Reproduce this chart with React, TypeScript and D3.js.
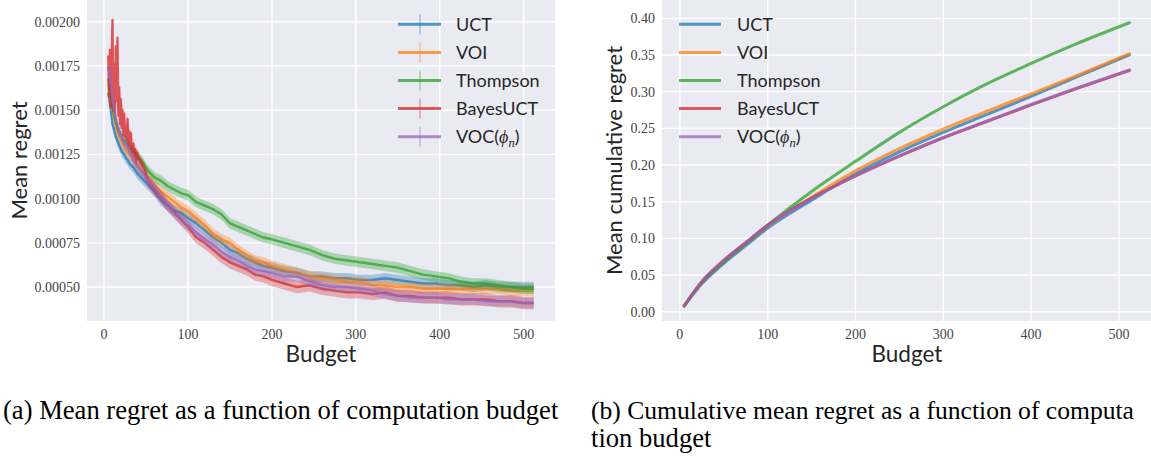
import React from 'react';
import * as d3 from 'd3';

const budget = [
  5, 8, 10, 12, 14, 16, 18, 20,
  22, 24, 26, 28, 30, 32, 34, 36,
  40, 44, 48, 52, 56, 60,
  68, 76, 84, 92, 100,
  110, 120, 130, 140, 150, 160, 170, 180, 190, 200,
  215, 230, 245, 260, 275, 290, 305, 320, 335, 350, 365, 380, 395, 410, 425, 440, 455, 470, 485, 500,
  512,
];
// BayesUCT is very noisy at the start, so it is read at every step there
const bayesBudget = [
  5, 6, 7, 8, 9, 10, 11, 12, 13, 14, 15, 16, 17, 18, 19, 20, 21, 22,
  23, 24, 25, 26, 27, 28, 29, 30, 31, 32, 33, 34, 35, 36, 37, 38, 39, 40,
  44, 48, 52, 56, 60,
  68, 76, 84, 92, 100,
  110, 120, 130, 140, 150, 160, 170, 180, 190, 200,
  215, 230, 245, 260, 275, 290, 305, 320, 335, 350, 365, 380, 395, 410, 425, 440, 455, 470, 485, 500,
  512,
];

const uctRegret = [
  0.00160, 0.00150, 0.00142, 0.00139, 0.00135, 0.00133, 0.00130, 0.00128,
  0.00126, 0.00125, 0.00123, 0.00122, 0.00120, 0.00119, 0.00118, 0.00117,
  0.00114, 0.00112, 0.00110, 0.00108, 0.00106, 0.00104,
  0.00099, 0.00096, 0.00093, 0.00092, 0.00089,
  0.00086, 0.00082, 0.00078, 0.00075, 0.00071, 0.00069, 0.00066, 0.00064, 0.00062, 0.00061,
  0.00059, 0.00058, 0.00056, 0.00056, 0.00055, 0.00055, 0.00054, 0.00054, 0.00055, 0.00054, 0.00053, 0.00052, 0.00052, 0.00051, 0.00051, 0.00050, 0.00051, 0.00050, 0.00050, 0.00050,
  0.00050,
];
const voiRegret = [
  0.00165, 0.00155, 0.00150, 0.00145, 0.00141, 0.00138, 0.00135, 0.00133,
  0.00131, 0.00129, 0.00128, 0.00126, 0.00125, 0.00124, 0.00122, 0.00121,
  0.00119, 0.00116, 0.00114, 0.00112, 0.00110, 0.00108,
  0.00104, 0.00101, 0.00098, 0.00095, 0.00093,
  0.00089, 0.00085, 0.00080, 0.00077, 0.00075, 0.00071, 0.00068, 0.00065, 0.00064, 0.00062,
  0.00060, 0.00058, 0.00056, 0.00055, 0.00054, 0.00053, 0.00053, 0.00051, 0.00051, 0.00050, 0.00050, 0.00049, 0.00049, 0.00049, 0.00049, 0.00049, 0.00049, 0.00049, 0.00048, 0.00048,
  0.00048,
];
const thompsonRegret = [
  0.00168, 0.00158, 0.00152, 0.00147, 0.00143, 0.00140, 0.00138, 0.00136,
  0.00134, 0.00133, 0.00132, 0.00131, 0.00129, 0.00128, 0.00127, 0.00126,
  0.00124, 0.00122, 0.00119, 0.00116, 0.00114, 0.00112,
  0.00110, 0.00107, 0.00105, 0.00103, 0.00102,
  0.00098, 0.00096, 0.00094, 0.00091, 0.00086, 0.00084, 0.00082, 0.00080, 0.00078, 0.00077,
  0.00075, 0.00073, 0.00071, 0.00068, 0.00066, 0.00065, 0.00064, 0.00063, 0.00062, 0.00061, 0.00059, 0.00057, 0.00056, 0.00055, 0.00053, 0.00052, 0.00052, 0.00051, 0.00050, 0.00049,
  0.00049,
];
const bayesRegret = [
  0.00181, 0.00158, 0.00184, 0.00152, 0.00178, 0.00201, 0.00150, 0.00176, 0.00148, 0.00186,
  0.00155, 0.00191, 0.00147, 0.00163, 0.00142, 0.00156, 0.00140, 0.00150,
  0.00136, 0.00148, 0.00135, 0.00140, 0.00133, 0.00145, 0.00130, 0.00138, 0.00128, 0.00137,
  0.00126, 0.00127, 0.00131, 0.00124, 0.00128, 0.00120, 0.00126, 0.00124,
  0.00120, 0.00117, 0.00110, 0.00108, 0.00105,
  0.00101, 0.00096, 0.00092, 0.00088, 0.00084,
  0.00078, 0.00075, 0.00071, 0.00067, 0.00064, 0.00062, 0.00060, 0.00057, 0.00056, 0.00054,
  0.00052, 0.00050, 0.00051, 0.00049, 0.00048, 0.00047, 0.00047, 0.00046, 0.00047, 0.00045, 0.00045, 0.00044, 0.00044, 0.00044, 0.00043, 0.00043, 0.00043, 0.00042, 0.00042, 0.00041,
  0.00041,
];
const vocRegret = [
  0.00175, 0.00165, 0.00156, 0.00150, 0.00146, 0.00141, 0.00138, 0.00136,
  0.00134, 0.00131, 0.00130, 0.00129, 0.00127, 0.00125, 0.00123, 0.00121,
  0.00118, 0.00116, 0.00113, 0.00110, 0.00108, 0.00106,
  0.00101, 0.00096, 0.00092, 0.00088, 0.00085,
  0.00081, 0.00077, 0.00074, 0.00070, 0.00067, 0.00065, 0.00062, 0.00060, 0.00059, 0.00058,
  0.00056, 0.00056, 0.00053, 0.00051, 0.00050, 0.00050, 0.00049, 0.00048, 0.00046, 0.00045, 0.00044, 0.00044, 0.00044, 0.00043, 0.00043, 0.00043, 0.00042, 0.00042, 0.00042, 0.00041,
  0.00041,
];
// standard error of each series (error bar half height)
const regretErr = [0.00003, 0.00003, 0.00003, 0.000035, 0.00003];

// cumulative regret, read at fewer budgets (smooth curves)
const cumBudget = [5, 25, 50, 75, 100, 150, 200, 250, 300, 350, 400, 450, 512];
const uctCum = [0.008, 0.038, 0.066, 0.090, 0.114, 0.152, 0.188, 0.218, 0.2445, 0.269, 0.2935, 0.319, 0.350];
const voiCum = [0.008, 0.040, 0.069, 0.093, 0.117, 0.156, 0.192, 0.2225, 0.249, 0.2735, 0.297, 0.321, 0.352];
const thompsonCum = [0.008, 0.040, 0.068, 0.093, 0.118, 0.164, 0.205, 0.2445, 0.2795, 0.311, 0.3385, 0.3645, 0.394];
const bayesCum = [0.008, 0.041, 0.070, 0.094, 0.118, 0.155, 0.185, 0.212, 0.237, 0.2595, 0.282, 0.3035, 0.329];
const vocCum = [0.008, 0.041, 0.070, 0.094, 0.118, 0.154, 0.185, 0.2125, 0.2375, 0.260, 0.2825, 0.304, 0.3296];

const names = ['UCT', 'VOI', 'Thompson', 'BayesUCT', 'VOC'];
const colors = ['#1f77b4', '#ff7f0e', '#2ca02c', '#d62728', '#9467bd'];
const regretSeries = [uctRegret, voiRegret, thompsonRegret, bayesRegret, vocRegret];
const regretBudgets = [budget, budget, budget, bayesBudget, budget];
const cumSeries = [uctCum, voiCum, thompsonCum, bayesCum, vocCum];

const budgetTicks = [0, 100, 200, 300, 400, 500];
const regretTicks = [0.0005, 0.00075, 0.001, 0.00125, 0.0015, 0.00175, 0.002];
const cumTicks = [0, 0.05, 0.1, 0.15, 0.2, 0.25, 0.3, 0.35, 0.4];

const SANS = 'Lato, "Liberation Sans", sans-serif';
const SERIF = '"Liberation Serif", serif';
const BG = '#eaeaf2';

function LegendLabel({ name }: { name: string }) {
  if (name !== 'VOC') return <>{name}</>;
  return (
    <>
      VOC(
      <tspan fontFamily={SERIF} fontStyle="italic">ϕ</tspan>
      <tspan fontFamily={SERIF} fontStyle="italic" fontSize="0.7em" dy="4">n</tspan>
      <tspan dy="-4">)</tspan>
    </>
  );
}

function Axes({ x, y, yTicks, yFmt, yLabel, labelX, id }: any) {
  const [x0, x1] = x.range();
  const [y1, y0] = y.range();
  return (
    <g>
      <defs>
        <clipPath id={id}>
          <rect x={x0} y={y0} width={x1 - x0} height={y1 - y0} />
        </clipPath>
      </defs>
      <rect x={x0} y={y0} width={x1 - x0} height={y1 - y0} fill={BG} />
      {budgetTicks.map((t) => (
        <line key={'gx' + t} x1={x(t)} x2={x(t)} y1={y0} y2={y1} stroke="#fff" strokeWidth={1.4} />
      ))}
      {yTicks.map((t: number) => (
        <line key={'gy' + t} x1={x0} x2={x1} y1={y(t)} y2={y(t)} stroke="#fff" strokeWidth={1.4} />
      ))}
      {budgetTicks.map((t) => (
        <text key={'tx' + t} x={x(t)} y={y1 + 18} textAnchor="middle" fontFamily={SERIF}
          fontSize={14} fill="#444">{t}</text>
      ))}
      {yTicks.map((t: number) => (
        <text key={'ty' + t} x={x0 - 7} y={y(t)} dy="0.35em" textAnchor="end" fontFamily={SERIF}
          fontSize={14} fill="#444">{yFmt(t)}</text>
      ))}
      <text x={(x0 + x1) / 2} y={y1 + 41} textAnchor="middle" fontFamily={SANS} fontSize={22.5}
        fill="#262626">Budget</text>
      <text transform={`translate(${labelX},${(y0 + y1) / 2}) rotate(-90)`} textAnchor="middle"
        dy="0.35em" fontFamily={SANS} fontSize={22} fill="#262626">{yLabel}</text>
    </g>
  );
}

function RegretPanel() {
  const x = d3.scaleLinear().domain([-20.35, 537.35]).range([87, 555]);
  const y = d3.scaleLinear().domain([0.000308, 0.002123]).range([321, 0]);
  return (
    <g>
      <Axes x={x} y={y} yTicks={regretTicks} yFmt={d3.format('.5f')} yLabel="Mean regret"
        labelX={19} id="clipL" />
      <g clipPath="url(#clipL)">
        {regretSeries.map((s, k) => {
          const bx = regretBudgets[k];
          const line = d3.line<number>().x((_, i) => x(bx[i])).y((d) => y(d));
          const band = d3.area<number>().x((_, i) => x(bx[i]))
            .y0((d) => y(d - regretErr[k])).y1((d) => y(d + regretErr[k]));
          return (
            <g key={names[k]}>
              <path d={band(s) || ''} fill={colors[k]} opacity={0.33} />
              <path d={line(s) || ''} fill="none" stroke={colors[k]} strokeWidth={2.4}
                strokeOpacity={0.75} strokeLinejoin="round" />
            </g>
          );
        })}
      </g>
      {names.map((n, k) => {
        const ly = 24.3 + k * 28.1;
        return (
          <g key={'lg' + n}>
            <line x1={420} x2={420} y1={ly - 10} y2={ly + 10} stroke={colors[k]} strokeWidth={2}
              strokeOpacity={0.3} />
            <line x1={398} x2={441} y1={ly} y2={ly} stroke={colors[k]} strokeWidth={3}
              strokeOpacity={0.75} />
            <text x={456} y={ly} dy="0.35em" fontFamily={SANS} fontSize={18} fill="#262626">
              <LegendLabel name={n} />
            </text>
          </g>
        );
      })}
    </g>
  );
}

function CumulativePanel() {
  const x = d3.scaleLinear().domain([-20.35, 537.35]).range([662, 1151.7]);
  const y = d3.scaleLinear().domain([-0.0127, 0.425]).range([321, 0]);
  const line = d3.line<number>().x((_, i) => x(cumBudget[i])).y((d) => y(d))
    .curve(d3.curveMonotoneX);
  return (
    <g>
      <Axes x={x} y={y} yTicks={cumTicks} yFmt={d3.format('.2f')} yLabel="Mean cumulative regret"
        labelX={614} id="clipR" />
      <g clipPath="url(#clipR)">
        {cumSeries.map((s, k) => (
          <path key={names[k]} d={line(s) || ''} fill="none" stroke={colors[k]} strokeWidth={3}
            strokeOpacity={0.75} strokeLinecap="round" />
        ))}
      </g>
      {names.map((n, k) => {
        const ly = 24.3 + k * 28.1;
        return (
          <g key={'lg' + n}>
            <line x1={679} x2={721} y1={ly} y2={ly} stroke={colors[k]} strokeWidth={3}
              strokeOpacity={0.75} />
            <text x={737} y={ly} dy="0.35em" fontFamily={SANS} fontSize={18} fill="#262626">
              <LegendLabel name={n} />
            </text>
          </g>
        );
      })}
    </g>
  );
}

export default function App() {
  return (
    <svg width={1151} height={461} style={{ position: 'absolute', left: 0, top: 0, background: '#fff' }}>
      <RegretPanel />
      <CumulativePanel />
      <g fontFamily={SERIF} fontSize={26.6} fill="#000">
        <text x={3} y={419}>(a) Mean regret as a function of computation budget</text>
        <text x={591} y={419} fontSize={25.6}>(b) Cumulative mean regret as a function of computa</text>
        <text x={591} y={447}>tion budget</text>
      </g>
    </svg>
  );
}
